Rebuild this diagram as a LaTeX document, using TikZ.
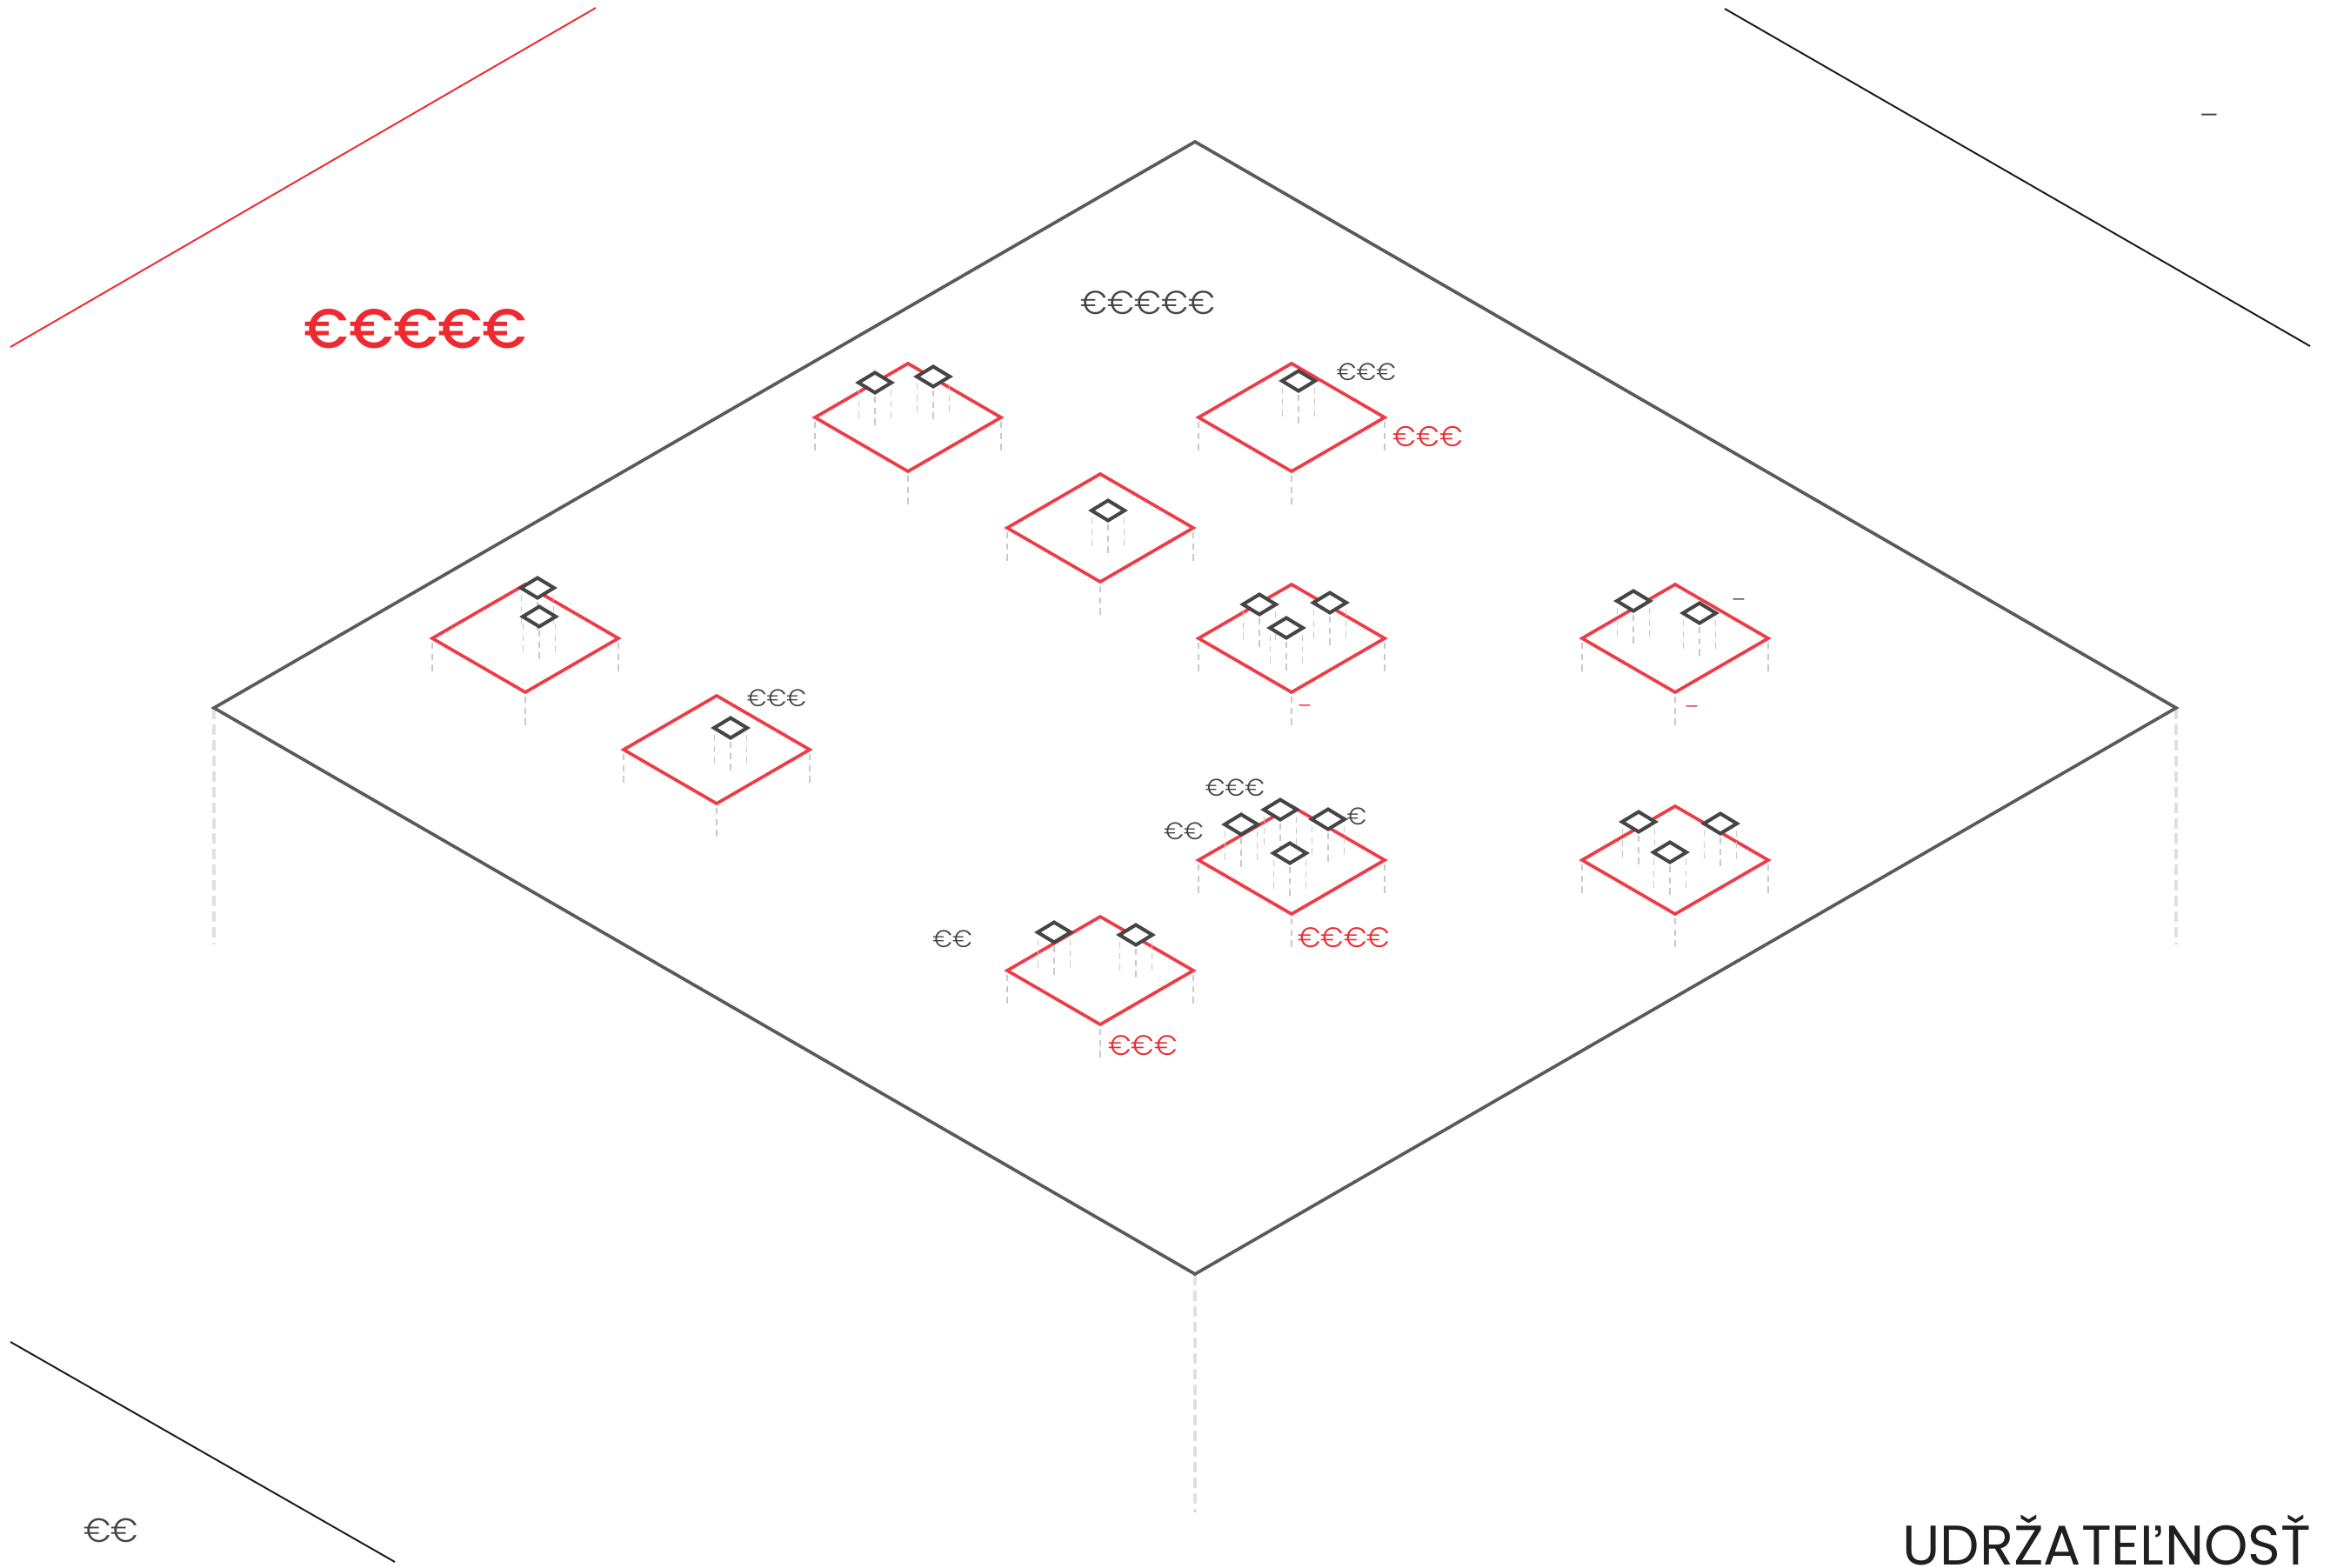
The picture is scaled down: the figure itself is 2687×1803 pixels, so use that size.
\documentclass[tikz,border=0pt]{standalone}
\usepackage{fontspec}
\setmainfont{Poppins}
\newfontfamily\plight{Poppins Light}
\newfontfamily\pmedium{Poppins Medium}
\definecolor{lotred}{HTML}{EE3B45}
\definecolor{eurored}{HTML}{EE2A30}
\definecolor{slab}{HTML}{5A5A5A}
\definecolor{ink}{HTML}{454545}
\tikzset{
 slabline/.style={draw=slab,line width=1.05pt,line join=miter},
 lotline/.style={draw=lotred,line width=1.05pt,line join=miter},
 unitline/.style={draw=ink,line width=1.15pt,fill=white,line join=miter},
 bigdrop/.style={draw=black!12,line width=0.88pt,dash pattern=on 3.4pt off 1.7pt},
 lotdrop/.style={draw=black!21,line width=0.55pt,dash pattern=on 2.1pt off 1.5pt},
 sideline/.style={line width=0.55pt},
 eurotxt/.style={inner sep=0pt,outer sep=0pt,anchor=center,text=ink},
 redtxt/.style={inner sep=0pt,outer sep=0pt,anchor=center,text=eurored},
}
% lot outline with its corner drops
\newcommand\lotbox[2]{%
 \draw[lotdrop] (#1-107,#2+5) -- (#1-107,#2+39);
 \draw[lotdrop] (#1+107,#2+5) -- (#1+107,#2+39);
 \draw[lotdrop] (#1,#2+67) -- (#1,#2+101);
 \draw[lotline] (#1,#2-62) -- (#1+107,#2) -- (#1,#2+62) -- (#1-107,#2) -- cycle;
}
% small unit drops, then the unit itself
\newcommand\unitdrop[2]{%
 \draw[lotdrop] (#1-18.5,#2+8) -- (#1-18.5,#2+42);
 \draw[lotdrop] (#1+18.5,#2+8) -- (#1+18.5,#2+42);
 \draw[lotdrop] (#1,#2+16) -- (#1,#2+53);
}
\newcommand\unitbox[2]{%
 \draw[unitline] (#1,#2-11.5) -- (#1+19,#2) -- (#1,#2+11.5) -- (#1-19,#2) -- cycle;
}
\newcommand\fs[1]{\fontsize{#1}{#1}\selectfont}
\begin{document}
\begin{tikzpicture}[x=0.01cm,y=-0.01cm]
\useasboundingbox (0,0) rectangle (2687,1803);
% sheet-corner lines
\draw[sideline,draw=eurored] (12,399) -- (685,9);
\draw[sideline,draw=black!90] (1983,10) -- (2656,398);
\draw[sideline,draw=black!90] (12,1543) -- (454,1796);
% slab
\draw[bigdrop] (246,815) -- (246,1086);
\draw[bigdrop] (2502,815) -- (2502,1086);
\draw[bigdrop] (1374,1466) -- (1374,1739);
\draw[slabline] (1374,163) -- (2502,814) -- (1374,1465) -- (246,814) -- cycle;
% lots
\foreach \x/\y in {1044/480,1485/480,1265/607,1485/734,1926/734,604/734,824/862,1485/989,1926/989,1265/1116}{\lotbox{\x}{\y}}
% units
\foreach \x/\y in {1006/440,1073/433,1493/438,1274/587,1448/695,1529/693,1479/722,1427/948,1472/931,1527/942,1483/981,1212/1072,1306/1075,1878/691,1954/705,618/676,620/709,840/837,1884/945,1978/947,1920/980}{\unitdrop{\x}{\y}}
\foreach \x/\y in {1006/440,1073/433,1493/438,1274/587,1448/695,1529/693,1479/722,1427/948,1472/931,1527/942,1483/981,1212/1072,1306/1075,1878/691,1954/705,618/676,620/709,840/837,1884/945,1978/947,1920/980}{\unitbox{\x}{\y}}
% texts
\node[redtxt] (bigeuro) at (478,378) {\pmedium\fs{18.2}€€€€€};
\node[eurotxt] (mainprice) at (1320,348) {\plight\fs{10.8}€€€€€};
\node[eurotxt] (p1) at (1571,428) {\plight\fs{7.9}€€€};
\node[redtxt] (p2) at (1642,502) {\plight\fs{9.3}€€€};
\node[eurotxt] (p3) at (893,803) {\plight\fs{7.9}€€€};
\node[eurotxt] (p4) at (1420,906) {\plight\fs{7.9}€€€};
\node[eurotxt] (p5) at (1361,956) {\plight\fs{7.9}€€};
\node[eurotxt] (p6) at (1560,939) {\plight\fs{7.9}€};
\node[redtxt] (p7) at (1545,1078) {\plight\fs{9.2}€€€€};
\node[redtxt] (p8) at (1314,1202) {\plight\fs{9.2}€€€};
\node[eurotxt] (p9) at (1095,1080) {\plight\fs{7.9}€€};
\node[eurotxt] (p10) at (128,1760) {\plight\fs{11}€€};
\node[eurotxt] (d1) at (2540,138) {\plight\fs{9.5}–};
\node[eurotxt] (d2) at (1999,694) {\plight\fs{7}–};
\node[redtxt] (d3) at (1945,817) {\plight\fs{7}–};
\node[redtxt] (d4) at (1500,816) {\plight\fs{7}–};
\node[inner sep=0pt,anchor=base east,text=black!88] (title) at (2658,1799) {\fs{18.25}UDRŽATEĽNOSŤ};
\end{tikzpicture}
\end{document}
